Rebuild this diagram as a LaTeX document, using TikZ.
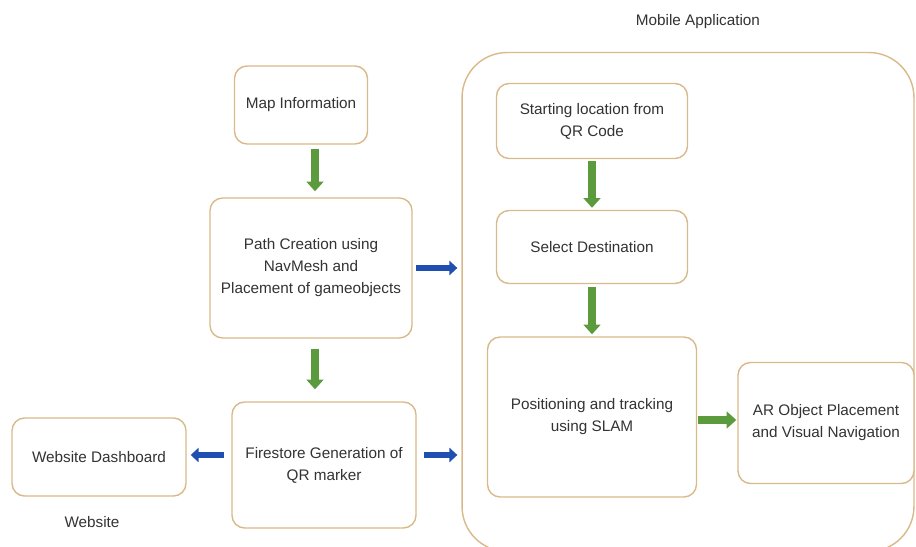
\documentclass[tikz,border=0pt]{standalone}
\usepackage{fontspec}
\setmainfont{Liberation Sans}
\usepackage{xcolor}
\usetikzlibrary{arrows.meta, positioning}

\definecolor{boxline}{HTML}{D9B98A}
\definecolor{flowgreen}{HTML}{5B9A3D}
\definecolor{flowblue}{HTML}{1F4FB0}

\begin{document}
\begin{tikzpicture}[
  x=0.02cm, y=-0.02cm,
  font=\fontsize{8.7}{12.5}\selectfont,
  block/.style={rectangle, draw=boxline, line width=0.8pt, fill=white,
                align=center, rounded corners=0.25cm, text=black!80},
  container/.style={rectangle, draw=boxline, line width=0.8pt,
                    rounded corners=0.9cm},
  garrow/.style={-{Triangle[width=9.5pt,length=5.5pt]}, line width=4.5pt, flowgreen},
  barrow/.style={-{Triangle[width=8pt,length=4.5pt]}, line width=3.8pt, flowblue}
]
  \useasboundingbox (0,0) rectangle (916,547);
  \clip (0,0) rectangle (916,547);

  % mobile application frame
  \node[container, minimum width=9.04cm, minimum height=9.98cm] (mobile) at (688,302) {};
  \node[text=black!80] (mobilelbl) at (698,22) {Mobile Application};

  % left column
  \node[block, minimum width=2.66cm, minimum height=1.56cm] (map) at (301,105) {Map Information};
  \node[block, minimum width=4.04cm, minimum height=2.8cm] (path) at (311,268) {%
    Path Creation using \\
    NavMesh and \\
    Placement of gameobjects
  };
  \node[block, minimum width=3.68cm, minimum height=2.52cm] (fire) at (324,465) {%
    Firestore Generation of \\
    QR marker
  };
  \node[block, minimum width=3.48cm, minimum height=1.56cm] (dash) at (99,457) {Website Dashboard};
  \node[text=black!80] (weblbl) at (92,522) {Website};

  % mobile application steps
  \node[block, minimum width=3.82cm, minimum height=1.5cm] (start) at (592,121) {%
    Starting location from \\
    QR Code
  };
  \node[block, minimum width=3.82cm, minimum height=1.46cm] (select) at (592,247) {Select Destination};
  \node[block, minimum width=4.18cm, minimum height=3.2cm] (pos) at (592,417) {%
    Positioning and tracking \\
    using SLAM
  };
  \node[block, minimum width=3.52cm, minimum height=2.42cm] (ar) at (826,423) {%
    AR Object Placement \\
    and Visual Navigation
  };

  % arrows
  \draw[garrow, shorten <=0.08cm, shorten >=0.12cm]
    ([xshift=0.28cm]map.south) -- ([xshift=0.28cm]map.south |- path.north);
  \draw[garrow, shorten <=0.2cm, shorten >=0.24cm]
    ([xshift=0.08cm]path.south) -- ([xshift=0.08cm]path.south |- fire.north);
  \draw[barrow, shorten <=0.06cm, shorten >=0.08cm]
    (path.east) -- (path.east -| mobile.west);
  \draw[barrow, shorten <=0.14cm, shorten >=0.08cm]
    ([yshift=0.2cm]fire.west) -- ([yshift=0.2cm]fire.west -| dash.east);
  \draw[barrow, shorten <=0.14cm, shorten >=0.08cm]
    ([yshift=0.2cm]fire.east) -- ([yshift=0.2cm]fire.east -| mobile.west);
  \draw[garrow, shorten <=0.04cm, shorten >=0.04cm] (start) -- (select);
  \draw[garrow, shorten <=0.06cm, shorten >=0.04cm] (select) -- (pos);
  \draw[garrow, shorten <=0.02cm, shorten >=0.02cm]
    ([yshift=-0.06cm]pos.east) -- ([yshift=-0.06cm]pos.east -| ar.west);
\end{tikzpicture}
\end{document}
